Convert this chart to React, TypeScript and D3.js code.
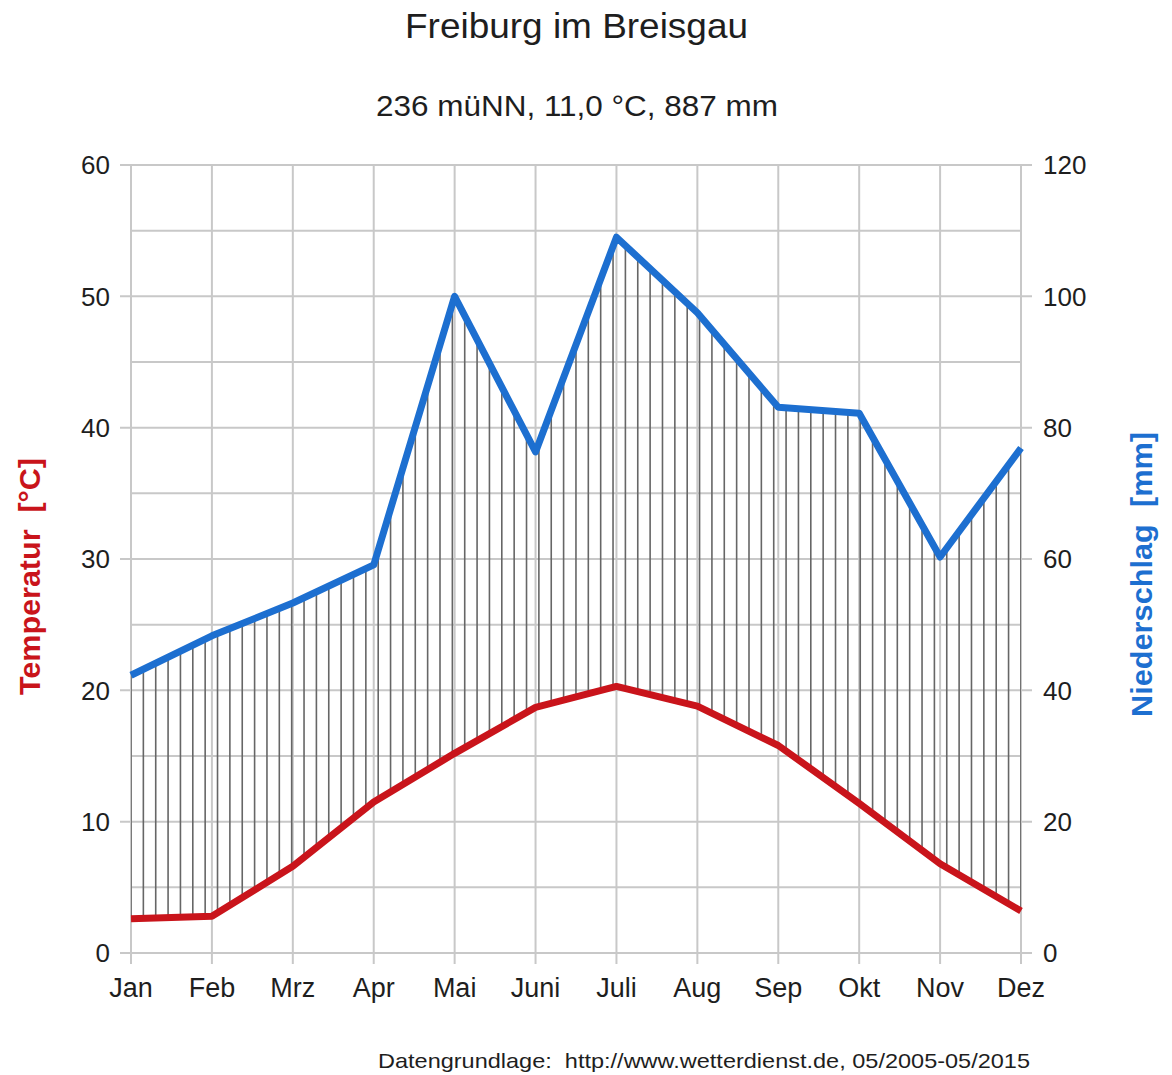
import { useEffect, useRef } from "react";
import * as d3 from "d3";

const months = ["Jan", "Feb", "Mrz", "Apr", "Mai", "Juni", "Juli", "Aug", "Sep", "Okt", "Nov", "Dez"];
const temperature = [2.6, 2.8, 6.6, 11.5, 15.2, 18.7, 20.3, 18.8, 15.8, 11.4, 6.8, 3.2];
const precipitation = [42.3, 48.3, 53.3, 59.1, 100, 76.3, 109, 97.5, 83.1, 82.2, 60.3, 76.9];
const tempTicks = [0, 10, 20, 30, 40, 50, 60];
const precipTicks = [0, 20, 40, 60, 80, 100, 120];

const W = 1172;
const H = 1075;
const FONT = "'Liberation Sans', Arial, sans-serif";
const RED = "#c9141b";
const BLUE = "#1d6fd0";
const GRID = "#c8c8c8";
const INK = "#1e1e1e";

export default function App() {
  const svgRef = useRef<SVGSVGElement>(null);

  useEffect(() => {
    const el = svgRef.current;
    if (!el) return;
    d3.select(el).selectAll("*").remove();
    const svg = d3.select(el);

    const left = 131, right = 1021, top = 165, bottom = 953;

    const x = d3.scaleLinear().domain([0, months.length - 1]).range([left, right]);
    const yT = d3.scaleLinear().domain([0, 60]).range([bottom, top]);
    const yP = d3.scaleLinear().domain([0, 120]).range([bottom, top]);

    // grid: horizontal every 5 °C, longer at labelled ticks
    const hLines = d3.range(0, 61, 5);
    svg.append("g")
      .selectAll("line")
      .data(hLines)
      .join("line")
      .attr("x1", (d) => (d % 10 === 0 ? left - 11 : left))
      .attr("x2", (d) => (d % 10 === 0 ? right + 11 : right))
      .attr("y1", (d) => yT(d))
      .attr("y2", (d) => yT(d))
      .attr("stroke", GRID)
      .attr("stroke-width", 2);

    svg.append("g")
      .selectAll("line")
      .data(months)
      .join("line")
      .attr("x1", (_, i) => x(i))
      .attr("x2", (_, i) => x(i))
      .attr("y1", top)
      .attr("y2", bottom + 11)
      .attr("stroke", GRID)
      .attr("stroke-width", 2);

    // hatched area between temperature and precipitation
    const area = d3.area<number>()
      .x((_, i) => x(i))
      .y0((_, i) => yT(temperature[i]))
      .y1((_, i) => yP(precipitation[i]));
    svg.append("clipPath")
      .attr("id", "hatchClip")
      .append("path")
      .attr("d", area(months.map((_, i) => i)));

    const step = 12.36;
    const hatchX = d3.range(left, right + 0.5, step);
    svg.append("g")
      .attr("clip-path", "url(#hatchClip)")
      .selectAll("line")
      .data(hatchX)
      .join("line")
      .attr("x1", (d) => d)
      .attr("x2", (d) => d)
      .attr("y1", top)
      .attr("y2", bottom)
      .attr("stroke", "#666")
      .attr("stroke-width", 1.6);

    // lines
    const tLine = d3.line<number>().x((_, i) => x(i)).y((d) => yT(d));
    const pLine = d3.line<number>().x((_, i) => x(i)).y((d) => yP(d));
    svg.append("path")
      .attr("d", tLine(temperature))
      .attr("fill", "none")
      .attr("stroke", RED)
      .attr("stroke-width", 7)
      .attr("stroke-linejoin", "round");
    svg.append("path")
      .attr("d", pLine(precipitation))
      .attr("fill", "none")
      .attr("stroke", BLUE)
      .attr("stroke-width", 7)
      .attr("stroke-linejoin", "round");

    // tick labels
    svg.append("g")
      .selectAll("text")
      .data(tempTicks)
      .join("text")
      .attr("x", 110)
      .attr("y", (d) => yT(d))
      .attr("dy", "0.36em")
      .attr("text-anchor", "end")
      .attr("font-family", FONT)
      .attr("font-size", 26)
      .attr("fill", INK)
      .text((d) => d);

    svg.append("g")
      .selectAll("text")
      .data(precipTicks)
      .join("text")
      .attr("x", 1043)
      .attr("y", (d) => yP(d))
      .attr("dy", "0.36em")
      .attr("text-anchor", "start")
      .attr("font-family", FONT)
      .attr("font-size", 26)
      .attr("fill", INK)
      .text((d) => d);

    svg.append("g")
      .selectAll("text")
      .data(months)
      .join("text")
      .attr("x", (_, i) => x(i))
      .attr("y", 997)
      .attr("text-anchor", "middle")
      .attr("font-family", FONT)
      .attr("font-size", 27)
      .attr("fill", INK)
      .text((d) => d);

    // titles (reference text is slightly wide, so fit lengths)
    svg.append("text")
      .attr("x", 405).attr("y", 38)
      .attr("textLength", 343).attr("lengthAdjust", "spacingAndGlyphs")
      .attr("font-family", FONT).attr("font-size", 35).attr("fill", INK)
      .text("Freiburg im Breisgau");
    svg.append("text")
      .attr("x", 376).attr("y", 116)
      .attr("textLength", 402).attr("lengthAdjust", "spacingAndGlyphs")
      .attr("font-family", FONT).attr("font-size", 29).attr("fill", INK)
      .text("236 müNN, 11,0 °C, 887 mm");

    // axis titles
    svg.append("text")
      .attr("transform", `translate(40,695) rotate(-90)`)
      .attr("textLength", 237).attr("lengthAdjust", "spacingAndGlyphs")
      .attr("font-family", FONT).attr("font-size", 29).attr("font-weight", "bold")
      .attr("fill", RED)
      .attr("xml:space", "preserve")
      .text("Temperatur  [°C]");
    svg.append("text")
      .attr("transform", `translate(1152,717) rotate(-90)`)
      .attr("textLength", 285).attr("lengthAdjust", "spacingAndGlyphs")
      .attr("font-family", FONT).attr("font-size", 29).attr("font-weight", "bold")
      .attr("fill", BLUE)
      .attr("xml:space", "preserve")
      .text("Niederschlag  [mm]");

    // source
    svg.append("text")
      .attr("x", 378).attr("y", 1068)
      .attr("textLength", 652).attr("lengthAdjust", "spacingAndGlyphs")
      .attr("font-family", FONT).attr("font-size", 21).attr("fill", INK)
      .attr("xml:space", "preserve")
      .text("Datengrundlage:  http://www.wetterdienst.de, 05/2005-05/2015");
  }, []);

  return (
    <svg
      ref={svgRef}
      width={W}
      height={H}
      viewBox={`0 0 ${W} ${H}`}
      style={{ position: "absolute", left: 0, top: 0, background: "#fff" }}
    />
  );
}
